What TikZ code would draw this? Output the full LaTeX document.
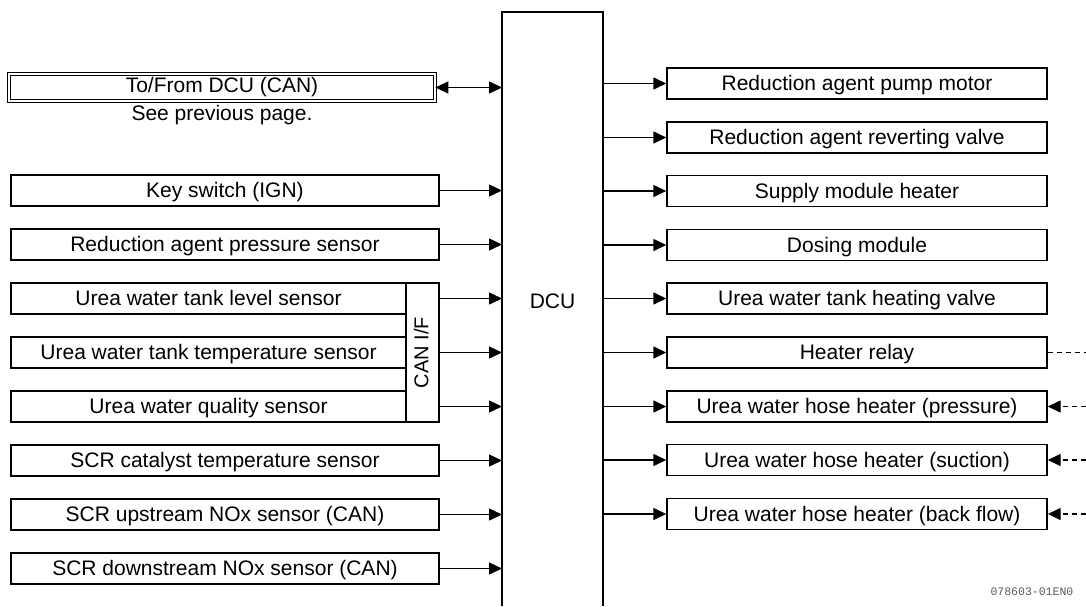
\documentclass[tikz,border=0pt]{standalone}
\usepackage{fontspec}
\setmainfont{Liberation Sans}
\newfontfamily\codefont{Liberation Mono}
\usetikzlibrary{arrows.meta}
\begin{document}
\begin{tikzpicture}[x=1pt,y=-1pt,
  line width=1.4pt,
  every node/.style={font=\fontsize{21}{25}\selectfont},
  boxbase/.style={draw, rectangle, minimum height=31pt, inner sep=0pt, text height=14pt, text depth=0pt},
  lbox/.style={boxbase, minimum width=428pt},
  cbox/.style={boxbase, minimum width=395pt},
  rbox/.style={boxbase, minimum width=380pt},
  tip/.style={-{Triangle[length=13pt,width=12pt]}},
  dashline/.style={dash pattern=on 5.5pt off 3.5pt}
]
\useasboundingbox (0,0) rectangle (1086,606);

% DCU
\node[minimum width=101pt, minimum height=594pt, inner sep=0pt, outer sep=0pt] (dcu) at (552.5,309) {};
\draw (dcu.south west) -- (dcu.north west) -- (dcu.north east) -- (dcu.south east);
\node[text height=15pt, text depth=0pt, inner sep=0pt] (dcutxt) at (552.5,300.5) {DCU};

% left side
\node[draw, double, double distance=2.4pt, line width=1pt, minimum width=425.6pt, minimum height=26.6pt, inner sep=0pt, text height=15pt, text depth=5pt] (can) at (222,87.5) {To/From DCU (CAN)};
\node[text height=15pt, text depth=4pt, inner sep=0pt] (prev) at (222,115) {See previous page.};
\node[lbox] (ks) at (225,190.5) {Key switch (IGN)};
\node[lbox] (rap) at (225,244.5) {Reduction agent pressure sensor};
\node[cbox] (tl) at (208.5,298.5) {Urea water tank level sensor};
\node[cbox] (tt) at (208.5,352.5) {Urea water tank temperature sensor};
\node[cbox] (wq) at (208.5,406.5) {Urea water quality sensor};
\node[draw, rectangle, minimum width=33pt, minimum height=139pt, inner sep=0pt] (canif) at (422.5,352.5) {};
\node[rotate=90, font=\fontsize{20}{24}\selectfont, text height=14.5pt, text depth=0pt, inner sep=0pt] (caniftxt) at (421,352.5) {CAN I/F};
\node[lbox] (sct) at (225,460.5) {SCR catalyst temperature sensor};
\node[lbox] (sun) at (225,514.5) {SCR upstream NOx sensor (CAN)};
\node[lbox] (sdn) at (225,568.5) {SCR downstream NOx sensor (CAN)};

% left arrows
\draw[{Triangle[length=13pt,width=12pt]}-{Triangle[length=13pt,width=12pt]}] (can.east) -- (can.east -| dcu.west);
\draw[tip] (ks.east) -- (ks.east -| dcu.west);
\draw[tip] (rap.east) -- (rap.east -| dcu.west);
\draw[tip] (canif.east |- tl.east) -- (tl.east -| dcu.west);
\draw[tip] (canif.east |- tt.east) -- (tt.east -| dcu.west);
\draw[tip] (canif.east |- wq.east) -- (wq.east -| dcu.west);
\draw[tip] (sct.east) -- (sct.east -| dcu.west);
\draw[tip] (sun.east) -- (sun.east -| dcu.west);
\draw[tip] (sdn.east) -- (sdn.east -| dcu.west);

% right side
\node[rbox] (pm) at (857,83.5) {Reduction agent pump motor};
\node[rbox] (rv) at (857,137.5) {Reduction agent reverting valve};
\node[rbox] (smh) at (857,191) {Supply module heater};
\node[rbox] (dm) at (857,245) {Dosing module};
\node[rbox] (thv) at (857,298.5) {Urea water tank heating valve};
\node[rbox] (hr) at (857,352.5) {Heater relay};
\node[rbox] (hp) at (857,406.5) {Urea water hose heater (pressure)};
\node[rbox] (hs) at (857,460) {Urea water hose heater (suction)};
\node[rbox] (hb) at (857,514) {Urea water hose heater (back flow)};

\foreach \n in {pm,rv,smh,dm,thv,hr,hp,hs,hb}
  \draw[tip] (dcu.east |- \n.west) -- (\n.west);

% dashed external lines
\coordinate (hrR) at (1086,352.5);
\coordinate (hpR) at (1086,406.5);
\coordinate (hsR) at (1086,460);
\coordinate (hbR) at (1086,514);
\draw[dashline] (hr.east) -- (hrR);
\draw[dashline, tip] (hpR) -- (hp.east);
\draw[dashline, tip] (hsR) -- (hs.east);
\draw[dashline, tip] (hbR) -- (hb.east);

% figure code
\node[font=\codefont\fontsize{11.5}{13}\selectfont, text=black!65, anchor=east, inner sep=0pt] (code) at (1074,592) {078603-01EN0};
\end{tikzpicture}
\end{document}
